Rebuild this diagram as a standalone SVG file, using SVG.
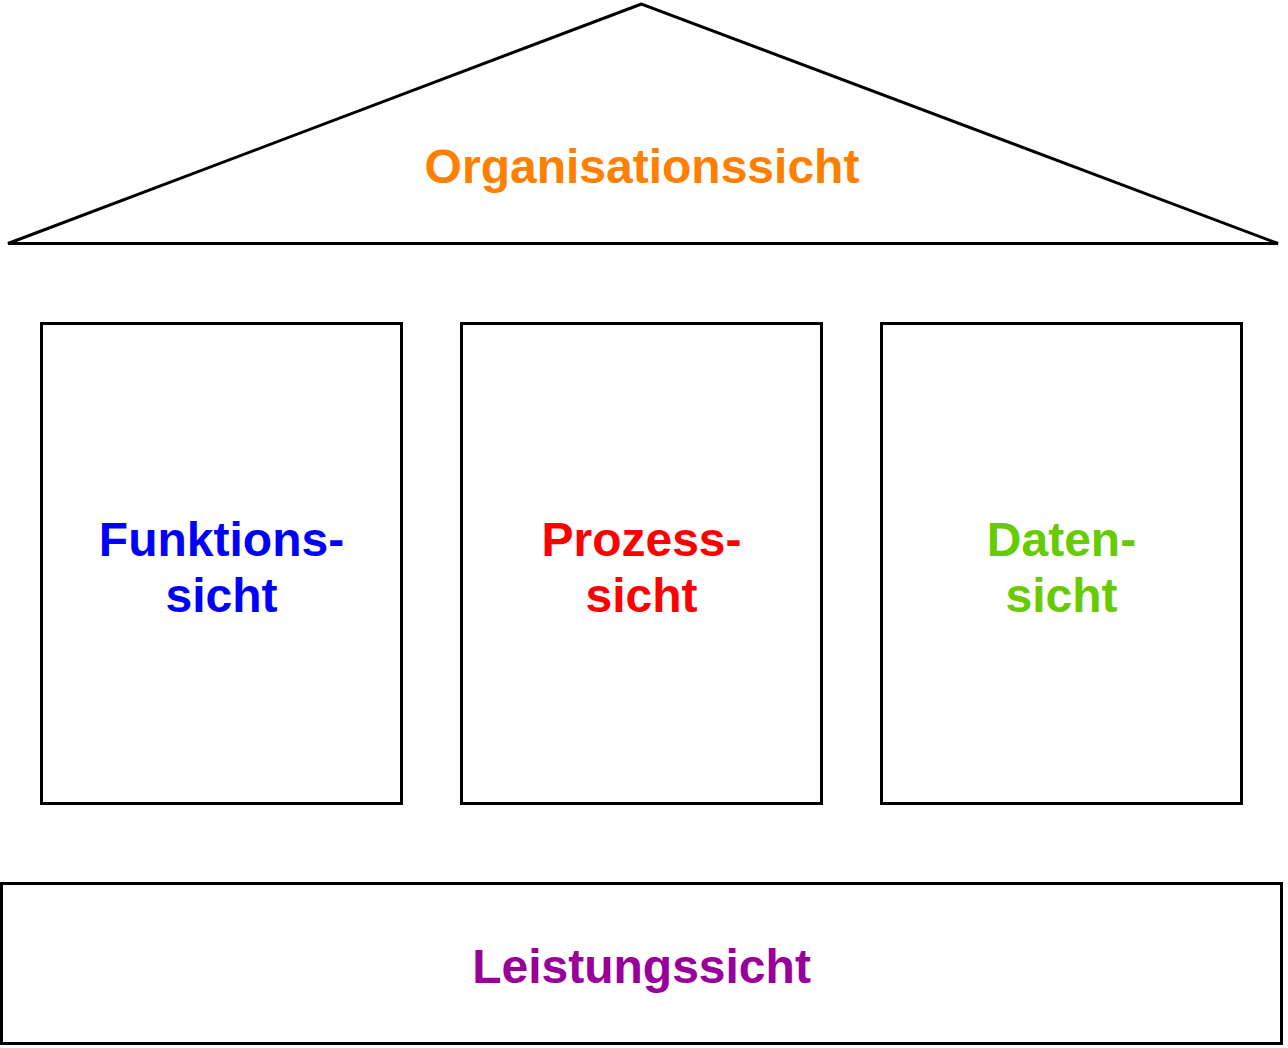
<svg xmlns="http://www.w3.org/2000/svg" width="1288" height="1048" viewBox="0 0 1288 1048">
<style>
.s{fill:#fff;stroke:#000;stroke-width:3}
.t{font-family:"Liberation Sans",Arial,sans-serif;font-weight:bold;font-size:48px;text-anchor:middle}
</style>
<rect width="1288" height="1048" fill="#fff"/>
<g id="organisationssicht">
<polygon class="s" points="641.5,4 8,243.5 1278,243.5"/>
<text class="t" x="642" y="183" fill="#FF8000">Organisationssicht</text>
</g>
<g id="funktionssicht">
<rect class="s" x="41.5" y="323.5" width="360" height="480"/>
<text class="t" x="221.5" y="556" fill="#0000FF">Funktions-</text>
<text class="t" x="221.5" y="612" fill="#0000FF">sicht</text>
</g>
<g id="prozesssicht">
<rect class="s" x="461.5" y="323.5" width="360" height="480"/>
<text class="t" x="641.5" y="556" fill="#FF0000">Prozess-</text>
<text class="t" x="641.5" y="612" fill="#FF0000">sicht</text>
</g>
<g id="datensicht">
<rect class="s" x="881.5" y="323.5" width="360" height="480"/>
<text class="t" x="1061.5" y="556" fill="#66CC00">Daten-</text>
<text class="t" x="1061.5" y="612" fill="#66CC00">sicht</text>
</g>
<g id="leistungssicht">
<rect class="s" x="1.5" y="883.5" width="1280" height="160"/>
<text class="t" x="641.5" y="983" fill="#990099">Leistungssicht</text>
</g>
<g id="connectors"/>
</svg>
